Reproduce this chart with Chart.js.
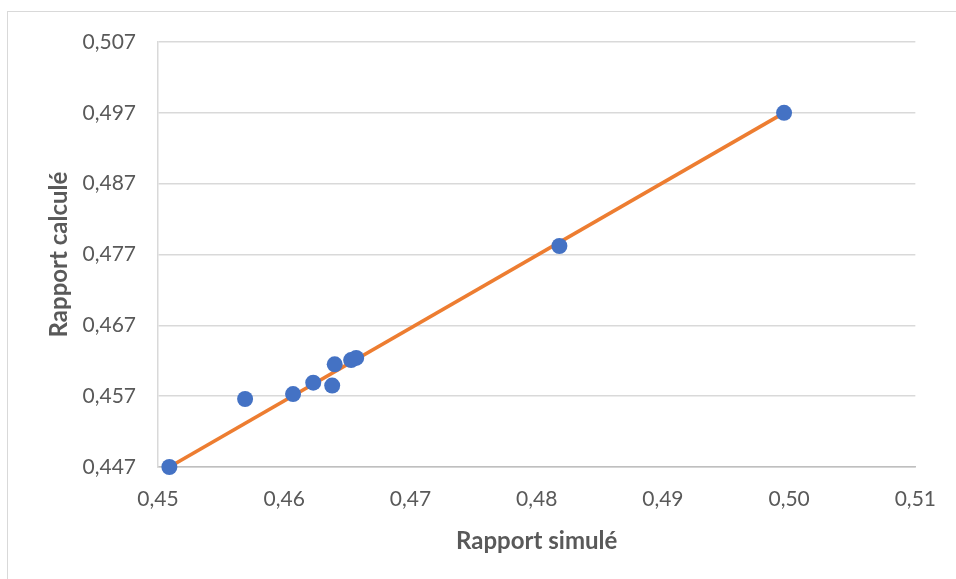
<!DOCTYPE html>
<html>
<head>
<meta charset="utf-8">
<script src="https://cdn.jsdelivr.net/npm/chart.js@4/dist/chart.umd.min.js"></script>
<style>
  html, body { margin: 0; padding: 0; background: #fff; overflow: hidden; }
  #wrap { position: relative; width: 956px; height: 579px; }
  #frame { position: absolute; left: 7px; top: 11px; width: 1000px; height: 1000px;
           border-left: 1.5px solid #d9d9d9; border-top: 1.5px solid #d9d9d9; }
  canvas { position: absolute; left: 0; top: 0; }
</style>
</head>
<body>
<div id="wrap">
  <div id="frame"></div>
  <canvas id="c" width="956" height="579"></canvas>
</div>
<script>
// Data
const simulated = [0.4509, 0.4569, 0.4607, 0.4623, 0.4638, 0.4640, 0.4653, 0.4657, 0.4818, 0.4996];
const calculated = [0.4470, 0.4566, 0.4573, 0.4589, 0.4585, 0.4615, 0.4621, 0.4624, 0.4782, 0.4970];
const trendX = [0.4509, 0.4996];
const trendY = [0.4470, 0.4970];
const xTickValues = [0.45, 0.46, 0.47, 0.48, 0.49, 0.50, 0.51];
const xTickLabels = ['0,45', '0,46', '0,47', '0,48', '0,49', '0,50', '0,51'];
const yTickValues = [0.447, 0.457, 0.467, 0.477, 0.487, 0.497, 0.507];
const yTickLabels = ['0,447', '0,457', '0,467', '0,477', '0,487', '0,497', '0,507'];
const xTitle = 'Rapport simulé';
const yTitle = 'Rapport calculé';

const points = simulated.map((x, i) => ({ x: x, y: calculated[i] }));
const trend = trendX.map((x, i) => ({ x: x, y: trendY[i] }));

const FONT = 'Lato, Carlito, Calibri, "Open Sans", sans-serif';
const GREY = '#595959';

new Chart(document.getElementById('c'), {
  type: 'scatter',
  data: {
    datasets: [
      {
        label: 'Points',
        data: points,
        backgroundColor: '#4472C4',
        borderColor: '#4472C4',
        borderWidth: 0,
        pointRadius: 8,
        showLine: false,
        clip: false
      },
      {
        label: 'Tendance',
        data: trend,
        showLine: true,
        borderColor: '#ED7D31',
        borderWidth: 3.75,
        pointRadius: 0,
        fill: false,
        clip: false
      }
    ]
  },
  options: {
    responsive: false,
    devicePixelRatio: 1,
    animation: false,
    layout: { padding: { top: 42, right: 39, bottom: 0, left: 0 } },
    plugins: { legend: { display: false }, tooltip: { enabled: false } },
    scales: {
      x: {
        type: 'linear',
        min: 0.45, max: 0.51,
        afterBuildTicks: s => { s.ticks = xTickValues.map(v => ({ value: v })); },
        afterFit: s => { s.height = 112; },
        grid: { display: false, drawTicks: false },
        border: { display: true, color: '#bfbfbf', width: 1.5 },
        ticks: {
          color: GREY, padding: 20,
          font: { family: FONT, size: 21 },
          callback: (v, i) => xTickLabels[i]
        },
        title: {
          display: true, text: xTitle, color: GREY,
          font: { family: FONT, size: 24, weight: 'bold' },
          padding: { top: 0, bottom: 23 }
        }
      },
      y: {
        type: 'linear',
        min: 0.447, max: 0.507,
        afterBuildTicks: s => { s.ticks = yTickValues.map(v => ({ value: v })); },
        afterFit: s => { s.width = 158; },
        grid: { color: '#d9d9d9', lineWidth: 1.5, drawTicks: false },
        border: { display: true, color: '#d9d9d9', width: 1.5 },
        ticks: {
          color: GREY, padding: 22,
          font: { family: FONT, size: 21 },
          callback: (v, i) => yTickLabels[i]
        },
        title: {
          display: true, text: yTitle, color: GREY,
          font: { family: FONT, size: 24, weight: 'bold' },
          padding: { top: 45, bottom: 0 }
        }
      }
    }
  }
});
</script>
</body>
</html>
